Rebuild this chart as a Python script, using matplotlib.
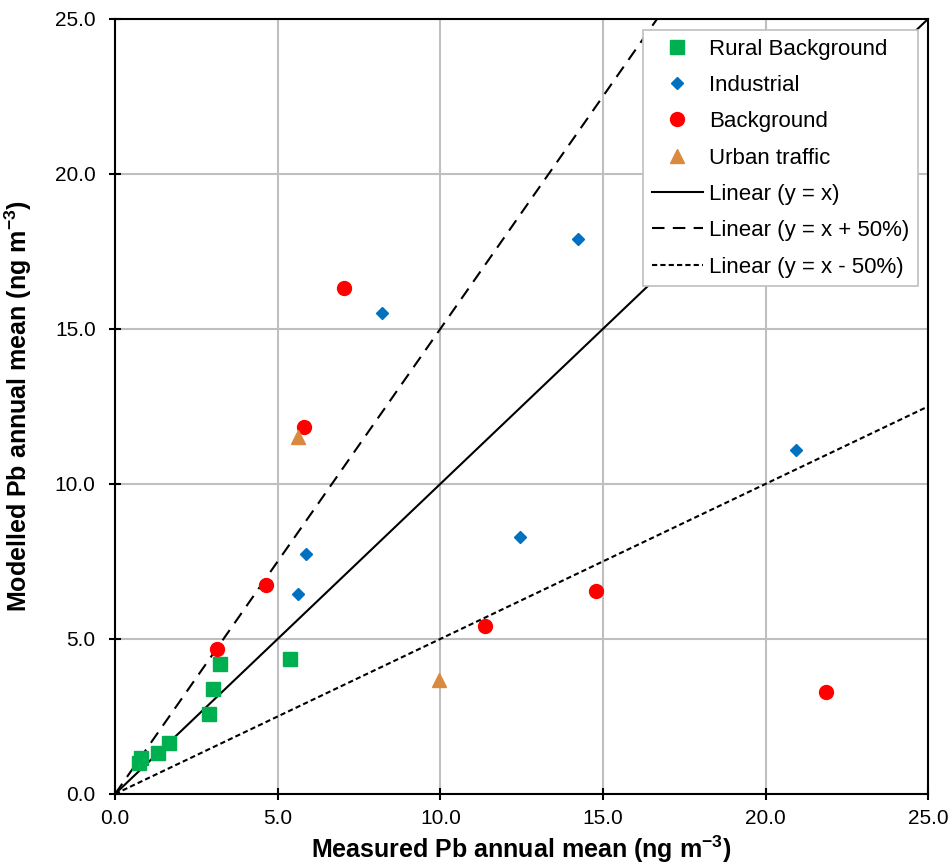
import matplotlib
matplotlib.use("Agg")
import matplotlib.pyplot as plt
import numpy as np

plt.rcParams['font.family'] = ['Liberation Sans', 'DejaVu Sans']
plt.rcParams['mathtext.default'] = 'regular'

# measured (x) vs modelled (y) Pb annual means, ng m-3
rural_x = [0.75, 0.80, 1.33, 1.66, 2.89, 3.02, 3.22, 5.39]
rural_y = [1.00, 1.15, 1.33, 1.64, 2.57, 3.38, 4.18, 4.34]

industrial_x = [8.22, 14.22, 5.86, 5.61, 12.46, 20.95]
industrial_y = [15.52, 17.90, 7.73, 6.44, 8.29, 11.10]

background_x = [7.05, 5.82, 4.65, 3.14, 11.38, 14.80, 21.85]
background_y = [16.32, 11.83, 6.74, 4.68, 5.42, 6.55, 3.29]

traffic_x = [5.62, 9.97]
traffic_y = [11.52, 3.68]

line_x = [0, 25]


def main():
    fig = plt.figure(figsize=(9.51, 8.68), dpi=100)
    ax = fig.add_axes([0.121, 0.0853, 0.855, 0.893])

    ax.plot(rural_x, rural_y, 's', color='#00B050', markersize=9.5,
            linestyle='none', label='Rural Background', zorder=4)
    ax.plot(industrial_x, industrial_y, 'D', color='#0070C0', markersize=6.5,
            linestyle='none', label='Industrial', zorder=4)
    ax.plot(background_x, background_y, 'o', color='#FF0000', markersize=10,
            linestyle='none', label='Background', zorder=4)
    ax.plot(traffic_x, traffic_y, '^', color='#DA8A3E', markersize=10,
            linestyle='none', label='Urban traffic', zorder=4)

    lx = np.array(line_x, dtype=float)
    ax.plot(lx, lx, '-', color='black', lw=1.5, label='Linear (y = x)', zorder=3)
    ax.plot(lx, 1.5 * lx, color='black', lw=1.5, linestyle=(0, (6, 4)),
            label='Linear (y = x + 50%)', zorder=3)
    ax.plot(lx, 0.5 * lx, color='black', lw=1.5, linestyle=(0, (2.5, 1.5)),
            label='Linear (y = x - 50%)', zorder=3)

    ax.set_xlim(0, 25)
    ax.set_ylim(0, 25)
    ticks = np.arange(0, 26, 5)
    ax.set_xticks(ticks)
    ax.set_yticks(ticks)
    ax.set_xticklabels([f'{t:.1f}' for t in ticks])
    ax.set_yticklabels([f'{t:.1f}' for t in ticks])
    ax.tick_params(labelsize=15, direction='inout', length=8, width=1.5)
    ax.tick_params(axis='y', pad=10)
    ax.tick_params(axis='x', pad=7)
    ax.grid(True, color='#BFBFBF', lw=1.5)
    ax.set_axisbelow(True)
    for sp in ax.spines.values():
        sp.set_linewidth(1.5)

    ax.set_xlabel('Measured Pb annual mean (ng m$^{-3}$)', fontsize=18,
                  fontweight='bold', labelpad=4)
    ax.set_ylabel('Modelled Pb annual mean (ng m$^{-3}$)', fontsize=18,
                  fontweight='bold', labelpad=15)

    leg = ax.legend(loc='upper right', fontsize=16, frameon=True, fancybox=False,
                    edgecolor='#BFBFBF', framealpha=1, handlelength=2.3,
                    borderpad=0.4, labelspacing=0.69, handletextpad=0.3,
                    borderaxespad=0, bbox_to_anchor=(0.988, 0.986))
    leg.get_frame().set_linewidth(1.2)

    fig.savefig('out.png', dpi=100)


if __name__ == "__main__":
    main()
